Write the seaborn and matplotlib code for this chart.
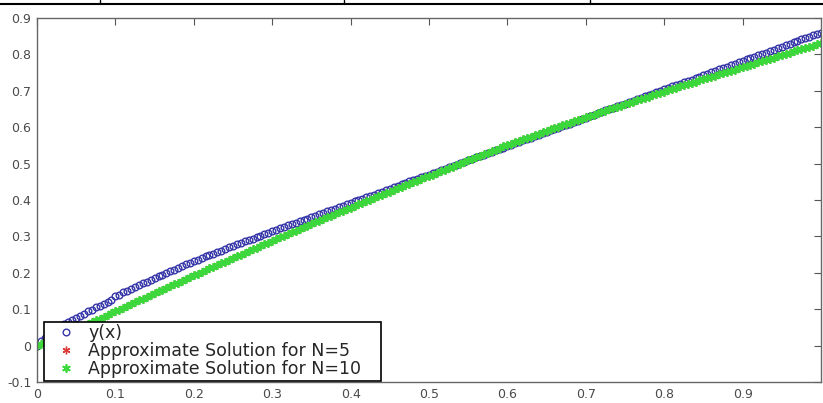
import matplotlib
matplotlib.use("Agg")
import matplotlib.pyplot as plt
from matplotlib.lines import Line2D
import numpy as np
import pandas as pd
import seaborn as sns

# x grid, step 0.005 from 0 to 1
x_vals = np.round(np.arange(201) * 0.005, 3)

# exact solution y(x)
y_exact = [
    0.000, 0.012, 0.022, 0.031, 0.039, 0.047, 0.054, 0.060, 0.066, 0.071,
    0.076, 0.082, 0.088, 0.094, 0.099, 0.105, 0.110, 0.115, 0.120, 0.125,
    0.135, 0.140, 0.146, 0.151, 0.156, 0.161, 0.166, 0.171, 0.176, 0.181,
    0.186, 0.191, 0.195, 0.200, 0.204, 0.209, 0.214, 0.218, 0.223, 0.227,
    0.232, 0.236, 0.240, 0.245, 0.249, 0.253, 0.257, 0.261, 0.266, 0.270,
    0.274, 0.278, 0.282, 0.286, 0.290, 0.294, 0.298, 0.302, 0.306, 0.310,
    0.314, 0.318, 0.322, 0.326, 0.330, 0.334, 0.337, 0.341, 0.345, 0.349,
    0.353, 0.357, 0.361, 0.365, 0.369, 0.373, 0.376, 0.380, 0.384, 0.388,
    0.392, 0.396, 0.400, 0.404, 0.408, 0.412, 0.415, 0.419, 0.423, 0.427,
    0.431, 0.435, 0.439, 0.443, 0.447, 0.451, 0.454, 0.458, 0.462, 0.466,
    0.470, 0.474, 0.478, 0.482, 0.486, 0.490, 0.493, 0.497, 0.501, 0.505,
    0.509, 0.513, 0.517, 0.521, 0.525, 0.529, 0.532, 0.536, 0.540, 0.544,
    0.548, 0.552, 0.556, 0.560, 0.564, 0.568, 0.571, 0.575, 0.579, 0.583,
    0.587, 0.591, 0.595, 0.599, 0.603, 0.607, 0.610, 0.614, 0.618, 0.622,
    0.626, 0.630, 0.634, 0.638, 0.642, 0.646, 0.649, 0.653, 0.657, 0.661,
    0.665, 0.669, 0.673, 0.677, 0.681, 0.685, 0.688, 0.692, 0.696, 0.700,
    0.704, 0.708, 0.712, 0.716, 0.720, 0.724, 0.727, 0.731, 0.735, 0.739,
    0.743, 0.747, 0.751, 0.755, 0.759, 0.763, 0.766, 0.770, 0.774, 0.778,
    0.782, 0.786, 0.790, 0.794, 0.798, 0.802, 0.805, 0.809, 0.813, 0.817,
    0.821, 0.825, 0.829, 0.833, 0.837, 0.841, 0.844, 0.848, 0.852, 0.856,
    0.860,
]

# approximate solution N=10 (green)
approx_n10 = [
    0.000, 0.004, 0.009, 0.013, 0.018, 0.022, 0.027, 0.031, 0.036, 0.040,
    0.045, 0.050, 0.055, 0.060, 0.065, 0.070, 0.074, 0.079, 0.084, 0.089,
    0.094, 0.099, 0.104, 0.109, 0.114, 0.119, 0.124, 0.129, 0.134, 0.139,
    0.144, 0.149, 0.154, 0.159, 0.164, 0.169, 0.173, 0.178, 0.183, 0.188,
    0.193, 0.198, 0.203, 0.207, 0.212, 0.217, 0.222, 0.227, 0.231, 0.236,
    0.241, 0.246, 0.250, 0.255, 0.260, 0.265, 0.269, 0.274, 0.279, 0.283,
    0.288, 0.293, 0.297, 0.302, 0.306, 0.311, 0.316, 0.320, 0.325, 0.329,
    0.334, 0.339, 0.343, 0.348, 0.352, 0.357, 0.361, 0.366, 0.370, 0.375,
    0.379, 0.383, 0.388, 0.392, 0.397, 0.401, 0.405, 0.410, 0.414, 0.419,
    0.423, 0.427, 0.432, 0.436, 0.440, 0.445, 0.449, 0.453, 0.457, 0.462,
    0.466, 0.470, 0.475, 0.479, 0.483, 0.488, 0.492, 0.496, 0.500, 0.505,
    0.509, 0.513, 0.517, 0.522, 0.526, 0.530, 0.534, 0.538, 0.543, 0.547,
    0.551, 0.555, 0.559, 0.563, 0.567, 0.571, 0.574, 0.578, 0.582, 0.586,
    0.590, 0.594, 0.597, 0.601, 0.605, 0.609, 0.612, 0.616, 0.620, 0.623,
    0.627, 0.631, 0.634, 0.638, 0.641, 0.645, 0.649, 0.652, 0.656, 0.659,
    0.663, 0.667, 0.670, 0.674, 0.677, 0.681, 0.684, 0.688, 0.691, 0.695,
    0.698, 0.701, 0.705, 0.708, 0.712, 0.715, 0.718, 0.722, 0.725, 0.729,
    0.732, 0.735, 0.739, 0.742, 0.745, 0.749, 0.752, 0.755, 0.758, 0.762,
    0.765, 0.768, 0.772, 0.775, 0.778, 0.782, 0.785, 0.788, 0.791, 0.795,
    0.798, 0.801, 0.805, 0.808, 0.811, 0.815, 0.818, 0.821, 0.824, 0.828,
    0.831,
]

# N=5 lies right under the N=10 points, no visible difference
approx_n5 = list(approx_n10)

labels = ["y(x)", "Approximate Solution for N=5", "Approximate Solution for N=10"]
x_ticks = [0, 0.1, 0.2, 0.3, 0.4, 0.5, 0.6, 0.7, 0.8, 0.9]
x_ticklabels = ["0", "0.1", "0.2", "0.3", "0.4", "0.5", "0.6", "0.7", "0.8", "0.9"]
y_ticks = [-0.1, 0, 0.1, 0.2, 0.3, 0.4, 0.5, 0.6, 0.7, 0.8, 0.9]
y_ticklabels = ["-0.1", "0", "0.1", "0.2", "0.3", "0.4", "0.5", "0.6", "0.7", "0.8", "0.9"]

df = pd.DataFrame({"x": x_vals, "exact": y_exact, "n5": approx_n5, "n10": approx_n10})

sns.set_style("white")
plt.rcParams["font.family"] = ["DejaVu Sans"]

fig = plt.figure(figsize=(8.23, 4.03), dpi=100)
ax = fig.add_axes([37 / 823, 21 / 403, 784 / 823, 364 / 403])

sns.lineplot(data=df, x="x", y="exact", ax=ax, linestyle="none", marker="o",
             markersize=4.8, markerfacecolor="none", markeredgecolor="#3535a8",
             markeredgewidth=1.0, label=labels[0])
sns.lineplot(data=df, x="x", y="n5", ax=ax, linestyle="none", marker=(6, 2, 0),
             markersize=5.5, markeredgecolor="#dd3b3b", markeredgewidth=1.0,
             color="#dd3b3b", label=labels[1])
sns.lineplot(data=df, x="x", y="n10", ax=ax, linestyle="none", marker=(6, 2, 0),
             markersize=6.2, markeredgecolor="#3ad83a", markeredgewidth=1.2,
             color="#3ad83a", label=labels[2])

ax.set_xlim(0, 1)
ax.set_ylim(-0.1, 0.9)
ax.set_xticks(x_ticks)
ax.set_xticklabels(x_ticklabels)
ax.set_yticks(y_ticks)
ax.set_yticklabels(y_ticklabels)
ax.set_xlabel("")
ax.set_ylabel("")
ax.tick_params(direction="in", top=True, right=True, length=5, width=0.8,
               color="#555555", labelcolor="#4a4a4a", labelsize=9, pad=4)
for sp in ax.spines.values():
    sp.set_color("#666666")
    sp.set_linewidth(1.0)

leg = ax.legend(loc="lower left", bbox_to_anchor=(0.009, 0.003, 0.43, 0.17),
                mode="expand", borderaxespad=0, fancybox=False, framealpha=1,
                edgecolor="black", fontsize=12.5, borderpad=0.15, labelspacing=0.0,
                handlelength=2.2, handletextpad=0.2, numpoints=1)
leg.get_frame().set_linewidth(1.2)

# bits of the table border above the plot
fig.add_artist(Line2D([0, 1], [1 - 3.5 / 403, 1 - 3.5 / 403], color="black", lw=1.5))
for xp in [100, 344, 590]:
    fig.add_artist(Line2D([xp / 823, xp / 823], [1, 1 - 3.5 / 403], color="black", lw=1.0))

fig.savefig("out.png", dpi=100)
